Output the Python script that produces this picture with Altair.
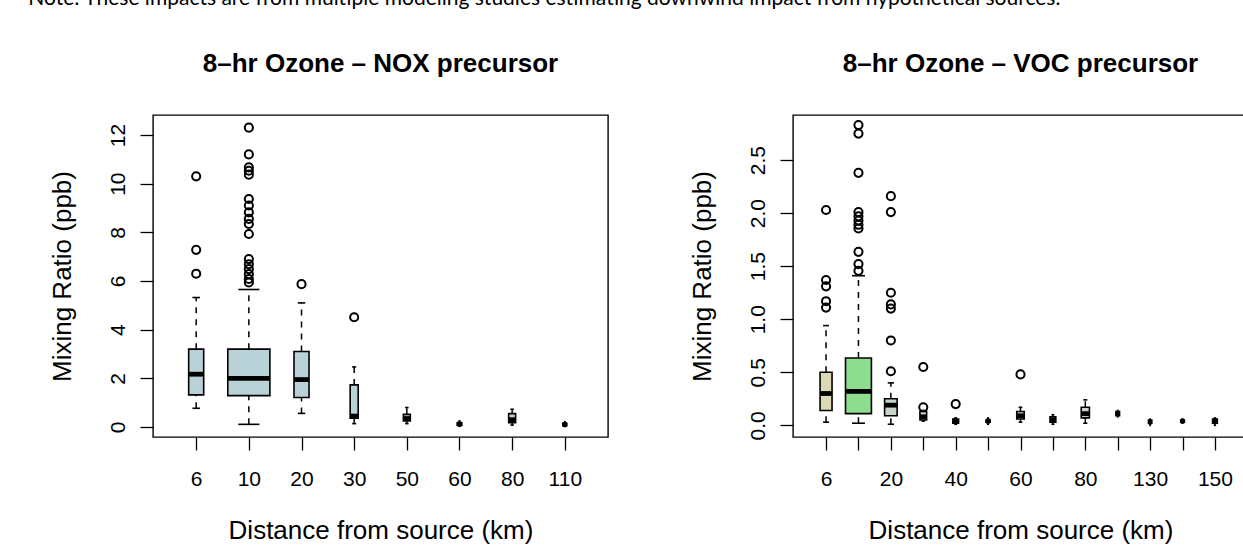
import altair as alt
import numpy as np
import pandas as pd

# ---------------- data: 8-hr Ozone, NOX precursor ----------------
nox_dist = [6, 10, 20, 30, 50, 60, 80, 110]
nox_n = [42, 330, 42, 12, 9, 4, 9, 3]
nox_lo = [0.77, 0.11, 0.56, 0.14, 0.14, 0.03, 0.08, 0.02]
nox_q1 = [1.32, 1.29, 1.21, 0.36, 0.25, 0.07, 0.18, 0.05]
nox_med = [2.17, 2.00, 1.95, 0.45, 0.35, 0.12, 0.30, 0.10]
nox_q3 = [3.20, 3.20, 3.10, 1.73, 0.52, 0.17, 0.55, 0.15]
nox_hi = [5.32, 5.65, 5.10, 2.47, 0.80, 0.25, 0.73, 0.22]
nox_out_dist = [6, 6, 6,
                10, 10, 10, 10, 10, 10, 10, 10, 10, 10, 10, 10, 10, 10, 10, 10, 10,
                20, 30]
nox_out_val = [10.3, 7.28, 6.30,
               12.3, 11.2, 10.67, 10.53, 10.37, 9.37, 9.10, 8.82, 8.55, 8.34, 7.93,
               6.90, 6.69, 6.49, 6.28, 6.08, 5.94,
               5.87, 4.51]

# ---------------- data: 8-hr Ozone, VOC precursor ----------------
voc_dist = [6, 10, 20, 30, 40, 50, 60, 70, 80, 100, 130, 140, 150]
voc_n = [64, 300, 70, 20, 15, 8, 25, 15, 30, 6, 5, 6, 10]
voc_lo = [0.03, 0.02, 0.01, 0.04, 0.01, 0.01, 0.03, 0.01, 0.02, 0.08, 0.00, 0.02, 0.00]
voc_q1 = [0.14, 0.11, 0.09, 0.05, 0.02, 0.03, 0.06, 0.03, 0.07, 0.09, 0.02, 0.03, 0.02]
voc_med = [0.30, 0.32, 0.19, 0.08, 0.04, 0.04, 0.09, 0.05, 0.11, 0.11, 0.03, 0.04, 0.04]
voc_q3 = [0.50, 0.635, 0.25, 0.13, 0.06, 0.05, 0.13, 0.08, 0.17, 0.13, 0.05, 0.05, 0.06]
voc_hi = [0.94, 1.41, 0.40, 0.14, 0.07, 0.07, 0.17, 0.10, 0.24, 0.14, 0.06, 0.06, 0.07]
voc_out_dist = [6, 6, 6, 6, 6,
                10, 10, 10, 10, 10, 10, 10, 10, 10, 10, 10,
                20, 20, 20, 20, 20, 20, 20,
                30, 30, 40, 60]
voc_out_val = [2.03, 1.37, 1.31, 1.17, 1.11,
               2.83, 2.75, 2.38, 2.01, 1.97, 1.93, 1.89, 1.855, 1.635, 1.52, 1.456,
               2.16, 2.01, 1.25, 1.14, 1.10, 0.80, 0.51,
               0.55, 0.17, 0.20, 0.48]

nox_ticks = [0, 2, 4, 6, 8, 10, 12]
voc_ticks = [0.0, 0.5, 1.0, 1.5, 2.0, 2.5]

note = ("Note: These impacts are from multiple modeling studies estimating "
        "downwind impact from hypothetical sources.")

# ---------------- styles ----------------
nox_fills = ["#b9d2d8"] * len(nox_dist)
voc_fills = ["#dcdab6", "#8edc8e", "#c6d6c6"] + ["#d0d0d0"] * (len(voc_dist) - 3)
FONT = "Liberation Sans"


def panel(title, dist, n, lo, q1, med, q3, hi, out_dist, out_val, fills,
          ydom, yvals, yfmt, label_every, width, height):
    k = len(dist)
    pos = np.arange(1, k + 1)
    half = 0.4 * np.sqrt(np.array(n, dtype=float) / max(n))
    box = pd.DataFrame(dict(pos=pos, lo=lo, q1=q1, med=med, q3=q3, hi=hi,
                            left=pos - half, right=pos + half,
                            capl=pos - half / 2, capr=pos + half / 2,
                            fill=fills))
    idx = {d: i + 1 for i, d in enumerate(dist)}
    outs = pd.DataFrame(dict(pos=[idx[d] for d in out_dist], val=out_val))

    ext = 0.04 * k
    xsc = alt.Scale(domain=[0.5 - ext, k + 0.5 + ext], nice=False, zero=False)
    ysc = alt.Scale(domain=ydom, nice=False, zero=False)
    labels = [str(d) if i % label_every == 0 else "" for i, d in enumerate(dist)]
    expr = "[" + ",".join("'%s'" % s for s in labels) + "][round(datum.value)-1]"
    xaxis = alt.Axis(values=[int(p) for p in pos], labelExpr=expr,
                     title="Distance from source (km)", labelPadding=18,
                     titlePadding=28)
    yaxis = alt.Axis(values=yvals, format=yfmt, title="Mixing Ratio (ppb)",
                     labelAngle=270, labelAlign="center", labelBaseline="bottom",
                     labelPadding=12, titlePadding=32)

    X = lambda f: alt.X(f, type="quantitative", scale=xsc, axis=xaxis)
    Y = lambda f: alt.Y(f, type="quantitative", scale=ysc, axis=yaxis)

    base = alt.Chart(box)
    dash = dict(strokeDash=[6, 6], strokeWidth=1.5, color="black")
    wu = base.mark_rule(**dash).encode(x=X("pos"), y=Y("q3"), y2="hi")
    wl = base.mark_rule(**dash).encode(x=X("pos"), y=Y("lo"), y2="q1")
    cu = base.mark_rule(strokeWidth=1.6, color="black").encode(
        x=X("capl"), x2="capr", y=Y("hi"))
    cl = base.mark_rule(strokeWidth=1.6, color="black").encode(
        x=X("capl"), x2="capr", y=Y("lo"))
    rect = base.mark_rect(stroke="black", strokeWidth=1.6).encode(
        x=X("left"), x2="right", y=Y("q1"), y2="q3",
        fill=alt.Fill("fill:N", scale=None))
    medr = base.mark_rule(strokeWidth=4.8, color="black").encode(
        x=X("left"), x2="right", y=Y("med"))
    pts = alt.Chart(outs).mark_point(shape="circle", filled=False, color="black",
                                     size=66, strokeWidth=2.0, opacity=1).encode(
        x=X("pos"), y=Y("val"))
    return alt.layer(wu, wl, cu, cl, rect, medr, pts).properties(
        width=width, height=height,
        title=alt.TitleParams(title, fontSize=26, fontWeight="bold", font=FONT,
                              anchor="middle", baseline="alphabetic", offset=17,
                              color="black"))


left = panel("8\u2013hr Ozone \u2013 NOX precursor", nox_dist, nox_n, nox_lo, nox_q1,
             nox_med, nox_q3, nox_hi, nox_out_dist, nox_out_val, nox_fills,
             [-0.41, 12.82], nox_ticks, "d", 1, 455, 322)
right = panel("8\u2013hr Ozone \u2013 VOC precursor", voc_dist, voc_n, voc_lo, voc_q1,
              voc_med, voc_q3, voc_hi, voc_out_dist, voc_out_val, voc_fills,
              [-0.11, 2.925], voc_ticks, ".1f", 2, 455, 322)

chart = alt.hconcat(left, right, spacing=79).properties(
    title=alt.TitleParams(note, font="Lato", fontSize=21, fontWeight="normal",
                          anchor="start", baseline="alphabetic", offset=24,
                          dx=-20, color="black"),
    autosize=alt.AutoSizeParams(type="none"),
    padding={"left": 153, "top": 115, "right": 1090, "bottom": 441},
    background="white",
).configure_view(stroke="black", strokeWidth=1.4).configure_axis(
    grid=False, domain=False, labelFont=FONT, labelFontSize=21, labelColor="black",
    titleFont=FONT, titleFontSize=26, titleFontWeight="normal", titleColor="black",
    tickColor="black", tickSize=13, tickWidth=1.3,
)

chart.save("out.html", embed_options={"renderer": "svg", "actions": False})
